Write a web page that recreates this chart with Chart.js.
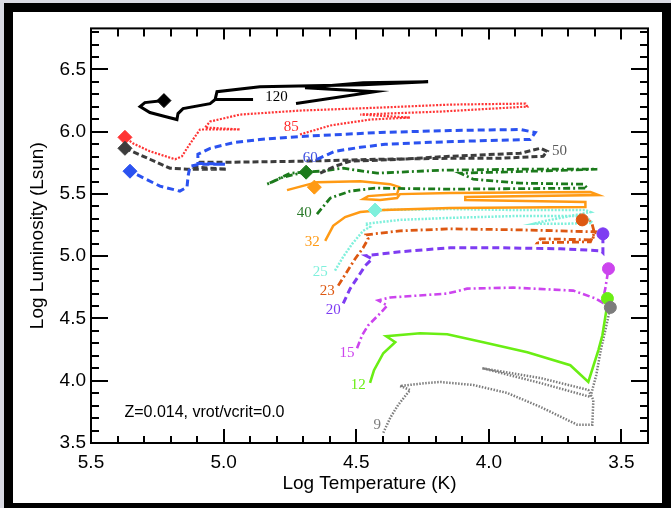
<!DOCTYPE html>
<html>
<head>
<meta charset="utf-8">
<script src="https://cdn.jsdelivr.net/npm/chart.js@4.4.0/dist/chart.umd.min.js"></script>
<style>
    html, body { margin: 0; padding: 0; background: #d9dae3; }
    #frame { position: absolute; left: 4px; top: 3px; width: 667px; height: 505px; background: #000; }
    #panel { position: absolute; left: 9px; top: 9px; width: 649px; height: 491px; background: #fff; }
    canvas { display: block; }
</style>
</head>
<body>
<div id="frame"><div id="panel"><canvas id="hrd" width="649" height="491"></canvas></div></div>
<script>
// Evolutionary tracks (log Teff, log L/Lsun)
var logT120 = [4.727, 4.429, 4.693, 4.474, 4.229, 4.474, 4.863, 5.025, 5.032, 4.889, 5.032, 5.051, 5.153, 5.172, 5.176, 5.221, 5.278, 5.315, 5.297, 5.225];
var logL120 = [6.226, 6.322, 6.354, 6.394, 6.402, 6.378, 6.362, 6.322, 6.258, 6.258, 6.258, 6.226, 6.186, 6.146, 6.098, 6.122, 6.154, 6.202, 6.234, 6.250];

var logT85 = [4.712, 4.598, 4.448, 4.297, 4.485, 4.183, 3.855, 3.862, 4.146, 4.410, 4.712, 4.938, 5.051, 5.070, 4.938, 5.089, 5.115, 5.138, 5.157, 5.183, 5.278, 5.342, 5.372];
var logL85 = [5.978, 6.050, 6.098, 6.114, 6.138, 6.162, 6.202, 6.226, 6.218, 6.194, 6.170, 6.138, 6.082, 6.034, 6.018, 6.018, 5.939, 5.867, 5.803, 5.779, 5.843, 5.907, 5.955];

var logT60 = [4.648, 4.580, 4.485, 4.391, 4.221, 3.995, 3.844, 3.825, 3.882, 4.146, 4.410, 4.712, 4.863, 4.957, 5.051, 5.097, 5.097, 4.995, 5.089, 5.127, 5.134, 5.138, 5.165, 5.240, 5.353];
var logL60 = [5.779, 5.843, 5.875, 5.899, 5.915, 5.930, 5.938, 5.994, 6.018, 6.010, 5.994, 5.962, 5.938, 5.915, 5.867, 5.819, 5.747, 5.739, 5.739, 5.723, 5.643, 5.555, 5.523, 5.563, 5.683];

var logT50 = [4.636, 4.580, 4.523, 4.335, 4.146, 3.882, 3.806, 3.780, 3.795, 3.957, 4.146, 4.410, 4.712, 4.976, 5.089, 5.108, 4.987, 5.138, 5.202, 5.278, 5.372];
var logL50 = [5.667, 5.723, 5.763, 5.779, 5.803, 5.827, 5.867, 5.843, 5.803, 5.787, 5.787, 5.779, 5.763, 5.755, 5.755, 5.715, 5.699, 5.699, 5.707, 5.779, 5.867];

var logT40 = [4.648, 4.598, 4.523, 4.429, 4.146, 3.629, 3.644, 3.882, 4.059, 4.108, 3.844, 3.591, 3.882, 4.183, 4.421, 4.549, 4.636, 4.749, 4.836, 4.776, 4.681];
var logL40 = [5.339, 5.467, 5.523, 5.547, 5.539, 5.547, 5.579, 5.587, 5.619, 5.667, 5.683, 5.699, 5.699, 5.691, 5.667, 5.707, 5.683, 5.667, 5.579, 5.635, 5.683];

var logT32 = [4.617, 4.587, 4.542, 4.485, 4.398, 4.146, 3.636, 3.636, 4.089, 4.089, 3.587, 3.617, 4.146, 4.335, 4.346, 4.410, 4.474, 4.455, 4.346, 4.338, 4.372, 4.485, 4.648, 4.761];
var logL32 = [5.124, 5.244, 5.315, 5.355, 5.371, 5.387, 5.395, 5.435, 5.451, 5.475, 5.491, 5.515, 5.507, 5.499, 5.467, 5.451, 5.459, 5.483, 5.499, 5.555, 5.579, 5.603, 5.595, 5.531];

var logT25 = [4.580, 4.549, 4.515, 4.474, 4.448, 4.466, 4.335, 4.146, 3.882, 3.636, 3.610, 3.731, 3.833, 3.787, 3.617, 3.636, 3.882, 4.146, 4.429];
var logL25 = [4.884, 4.996, 5.100, 5.204, 5.236, 5.260, 5.292, 5.308, 5.324, 5.324, 5.268, 5.260, 5.260, 5.284, 5.355, 5.371, 5.371, 5.379, 5.371];

var logT23 = [4.568, 4.542, 4.504, 4.474, 4.455, 4.463, 4.335, 4.146, 3.882, 3.598, 3.610, 3.806, 3.817, 3.617, 3.602, 3.613, 3.648];
var logL23 = [4.764, 4.852, 4.980, 5.068, 5.140, 5.172, 5.204, 5.220, 5.212, 5.196, 5.132, 5.140, 5.108, 5.116, 5.188, 5.276, 5.292];

var logT20 = [4.549, 4.523, 4.493, 4.466, 4.440, 4.463, 4.335, 4.146, 3.957, 3.731, 3.578, 3.570, 3.570, 3.570];
var logL20 = [4.621, 4.740, 4.836, 4.924, 4.980, 5.004, 5.036, 5.068, 5.068, 5.060, 5.044, 5.028, 5.100, 5.180];

var logT15 = [4.497, 4.478, 4.455, 4.410, 4.383, 4.417, 4.372, 4.157, 4.082, 3.908, 3.682, 3.598, 3.572, 3.561, 3.549];
var logL15 = [4.261, 4.365, 4.445, 4.541, 4.605, 4.645, 4.669, 4.700, 4.740, 4.748, 4.724, 4.661, 4.629, 4.740, 4.900];

var logT12 = [4.448, 4.433, 4.398, 4.353, 4.387, 4.259, 4.157, 4.021, 3.855, 3.693, 3.625, 3.587, 3.572, 3.557, 3.553];
var logL12 = [3.982, 4.085, 4.221, 4.309, 4.357, 4.381, 4.373, 4.309, 4.229, 4.125, 3.990, 4.246, 4.365, 4.565, 4.661];

var logT9 = [4.398, 4.372, 4.342, 4.297, 4.335, 4.233, 4.183, 4.059, 3.931, 3.806, 3.666, 3.610, 3.606, 3.625, 3.806, 4.025, 3.806, 3.617, 3.595, 3.578, 3.561, 3.542];
var logL9 = [3.582, 3.702, 3.806, 3.926, 3.958, 3.982, 3.990, 3.966, 3.902, 3.790, 3.646, 3.646, 3.846, 3.926, 4.022, 4.101, 3.982, 3.870, 4.046, 4.246, 4.405, 4.589];

// Track names, where the mass label sits, and where each track ends (marker)
var masses = ["120", "85", "60", "50", "40", "32", "25", "23", "20", "15", "12", "9"];
var labelT = [4.801, 4.745, 4.673, 3.734, 4.696, 4.666, 4.636, 4.609, 4.587, 4.535, 4.492, 4.421];
var labelL = [6.275, 6.035, 5.787, 5.843, 5.347, 5.115, 4.876, 4.724, 4.564, 4.219, 3.966, 3.646];
var endT = [5.225, 5.372, 5.353, 5.372, 4.689, 4.658, 4.429, 3.648, 3.570, 3.549, 3.553, 3.542];
var endL = [6.250, 5.955, 5.683, 5.867, 5.675, 5.555, 5.371, 5.292, 5.180, 4.900, 4.661, 4.589];

// Axis ticks
var xTicks = [5.5, 5.0, 4.5, 4.0, 3.5];
var yTicks = [3.5, 4.0, 4.5, 5.0, 5.5, 6.0, 6.5];

var noteText = "Z=0.014, vrot/vcrit=0.0";
var noteT = 5.374, noteL = 3.742;

// styles
var trackColors = ["#000000", "#ff3434", "#2b52f0", "#3c3c3c", "#1c7a1c", "#ff9a14", "#7ff0dc", "#dd5812", "#7e3cf2", "#cc44ee", "#6aee14", "#7c7c7c"];
var labelColors = ["#000000", "#ff2a2a", "#3d4fe0", "#5a5a5a", "#2a7a2a", "#ff9a14", "#7ff0dc", "#dd5812", "#7e3cf2", "#cc44ee", "#6aee14", "#7c7c7c"];
var dashes = [[], [2, 1.5], [7, 4], [6, 3], [7, 3, 2, 3], [], [2, 1.5], [7, 3, 2, 3], [7, 4], [7, 3, 2, 3], [], [1.5, 1.5]];
var widths = [3, 2.2, 3, 3, 2.8, 2.5, 2.5, 2.8, 3, 2.6, 2.6, 2.5];
var markerStyles = ["rectRot", "rectRot", "rectRot", "rectRot", "rectRot", "rectRot", "rectRot", "circle", "circle", "circle", "circle", "circle"];

var trackT = [logT120, logT85, logT60, logT50, logT40, logT32, logT25, logT23, logT20, logT15, logT12, logT9];
var trackL = [logL120, logL85, logL60, logL50, logL40, logL32, logL25, logL23, logL20, logL15, logL12, logL9];

function toPoints(ts, ls) {
    return ts.map(function (t, i) { return { x: t, y: ls[i] }; });
}

var datasets = [];
// markers first so they are drawn on top
datasets.push({
    label: "end",
    data: toPoints(endT, endL),
    showLine: false,
    pointStyle: markerStyles,
    pointRadius: markerStyles.map(function (s) { return s === "rectRot" ? 7 : 6; }),
    pointBackgroundColor: trackColors,
    pointBorderColor: trackColors,
    pointBorderWidth: 1
});
masses.forEach(function (m, i) {
    datasets.push({
        label: m,
        data: toPoints(trackT[i], trackL[i]),
        showLine: true,
        borderColor: trackColors[i],
        borderWidth: widths[i],
        borderDash: dashes[i],
        pointRadius: 0,
        tension: 0
    });
});

var tickFont = { family: "Liberation Sans", size: 19 };

// frame with inward ticks, mass labels, note
var decorPlugin = {
    id: "decor",
    afterDatasetsDraw: function (chart) {
        var ctx = chart.ctx, a = chart.chartArea;
        var x = chart.scales.x, y = chart.scales.y;
        ctx.save();
        ctx.font = '15px "Liberation Serif"';
        ctx.textAlign = "center";
        ctx.textBaseline = "middle";
        masses.forEach(function (m, i) {
            ctx.fillStyle = labelColors[i];
            ctx.fillText(m, x.getPixelForValue(labelT[i]), y.getPixelForValue(labelL[i]));
        });
        ctx.font = '16px "Liberation Sans"';
        ctx.textAlign = "left";
        ctx.fillStyle = "#000";
        ctx.fillText(noteText, x.getPixelForValue(noteT), y.getPixelForValue(noteL));

        ctx.strokeStyle = "#000";
        ctx.lineWidth = 2;
        ctx.strokeRect(a.left, a.top, a.right - a.left, a.bottom - a.top);
        ctx.beginPath();
        for (var v = 35; v <= 55; v++) {
            var px = Math.round(x.getPixelForValue(v / 10));
            var major = v % 5 === 0;
            ctx.moveTo(px, a.bottom); ctx.lineTo(px, a.bottom - (major ? 14 : 7));
            ctx.moveTo(px, a.top); ctx.lineTo(px, a.top + (major ? 11 : 8));
        }
        for (var w = 35; w <= 68; w++) {
            var py = Math.round(y.getPixelForValue(w / 10));
            var len2 = w % 5 === 0 ? 17 : 8;
            ctx.moveTo(a.left, py); ctx.lineTo(a.left + len2, py);
            ctx.moveTo(a.right, py); ctx.lineTo(a.right - len2, py);
        }
        ctx.stroke();
        ctx.restore();
    }
};

new Chart(document.getElementById("hrd").getContext("2d"), {
    type: "scatter",
    data: { datasets: datasets },
    options: {
        responsive: false,
        animation: false,
        layout: { padding: { left: 0, top: 14, right: 14, bottom: 0 } },
        plugins: { legend: { display: false }, tooltip: { enabled: false } },
        scales: {
            x: {
                type: "linear", reverse: true, min: 3.4, max: 5.5,
                afterBuildTicks: function (s) { s.ticks = xTicks.map(function (v) { return { value: v }; }); },
                afterFit: function (s) { s.height = 60; },
                grid: { display: false, drawTicks: false },
                border: { display: false },
                ticks: { color: "#000", font: tickFont, padding: 8, maxRotation: 0, autoSkip: false,
                         callback: function (v) { return Number(v).toFixed(1); } },
                title: { display: true, text: "Log Temperature (K)", color: "#000", font: tickFont, padding: { top: 0, bottom: 8 } }
            },
            y: {
                type: "linear", min: 3.5, max: 6.83,
                afterBuildTicks: function (s) { s.ticks = yTicks.map(function (v) { return { value: v }; }); },
                afterFit: function (s) { s.width = 78; },
                grid: { display: false, drawTicks: false },
                border: { display: false },
                ticks: { color: "#000", font: tickFont, padding: 5, autoSkip: false,
                         callback: function (v) { return Number(v).toFixed(1); } },
                title: { display: true, text: "Log Luminosity (Lsun)", color: "#000", font: tickFont, padding: { top: 13, bottom: 0 } }
            }
        }
    },
    plugins: [decorPlugin]
});
</script>
</body>
</html>
